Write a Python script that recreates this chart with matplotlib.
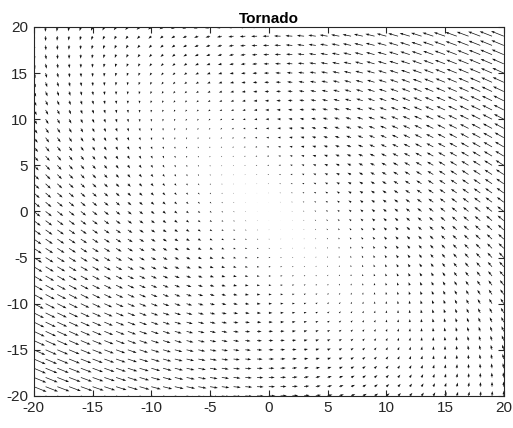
import numpy as np
import matplotlib.pyplot as plt
import matplotlib

matplotlib.rcParams['font.family'] = ['Liberation Sans', 'DejaVu Sans']
matplotlib.rcParams['axes.unicode_minus'] = False

# grid of sample points
x_vals = np.arange(-20, 21, 1)
y_vals = np.arange(-20, 21, 1)
X, Y = np.meshgrid(x_vals, y_vals)

# tornado field: swirl (-y, x) plus inflow along x
U = -X - Y
V = X

# quiver-style autoscale: longest arrow = 0.9 of the grid spacing
n, m = X.shape
delx = (X.max() - X.min()) / n
dely = (Y.max() - Y.min()) / m
del2 = delx**2 + dely**2
maxlen = np.sqrt((U**2 + V**2) / del2).max()
autoscale = 0.9 / maxlen
Us = U * autoscale
Vs = V * autoscale

fig = plt.figure(figsize=(5.13, 4.28), dpi=100)
ax = fig.add_axes([0.066, 0.075, 0.916, 0.862])

ax.quiver(X, Y, Us, Vs, angles='xy', scale_units='xy', scale=1,
          color='#111111', width=0.0015, headwidth=3.5, headlength=5,
          headaxislength=4.5, minlength=0.2)

ax.set_xlim(-20, 20)
ax.set_ylim(-20, 20)
ax.set_xticks(np.arange(-20, 21, 5))
ax.set_yticks(np.arange(-20, 21, 5))

axis_color = '#262626'
for side in ax.spines.values():
    side.set_color(axis_color)
    side.set_linewidth(0.8)
ax.tick_params(direction='in', length=4, width=0.8, colors=axis_color,
               labelsize=11, top=True, right=True, pad=4)

ax.set_title('Tornado', fontsize=11, fontweight='bold', color='black', pad=3)

fig.savefig('out.png', dpi=100)
